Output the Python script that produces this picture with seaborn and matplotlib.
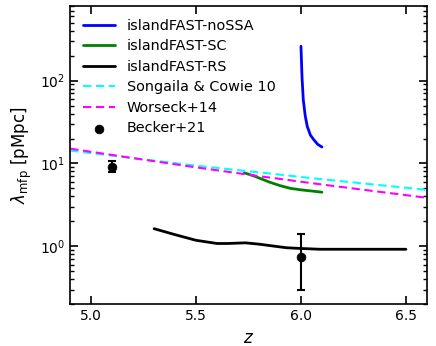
import numpy as np
import pandas as pd
import matplotlib
matplotlib.use("Agg")
import matplotlib.pyplot as plt
import seaborn as sns

# islandFAST models
z_nossa = [6.00, 6.005, 6.011, 6.02, 6.03, 6.045, 6.06, 6.08, 6.10]
mfp_nossa = [260, 110, 59, 38, 28, 22, 19.5, 17, 15.8]

z_sc = [5.73, 5.78, 5.85, 5.90, 5.95, 6.00, 6.05, 6.10]
mfp_sc = [7.7, 7.0, 5.95, 5.4, 5.0, 4.8, 4.65, 4.5]

z_rs = [5.30, 5.40, 5.50, 5.60, 5.65, 5.735, 5.80, 5.93, 6.00, 6.09, 6.20, 6.35, 6.50]
mfp_rs = [1.63, 1.38, 1.18, 1.08, 1.08, 1.10, 1.06, 0.96, 0.94, 0.92, 0.92, 0.92, 0.92]

# fits from the literature
z_fit = [4.9, 5.2, 5.5, 5.8, 6.1, 6.4, 6.6]
mfp_sc10 = [14.3, 11.6, 9.4, 7.8, 6.45, 5.4, 4.8]
mfp_w14 = [15.1, 11.6, 8.97, 7.03, 5.57, 4.46, 3.85]

# Becker+21 measurements
z_b21 = [5.1, 6.0]
mfp_b21 = [9.09, 0.75]
err_lo = [1.28, 0.45]
err_hi = [1.62, 0.65]

sns.set_style("ticks", {"text.color": "black", "axes.labelcolor": "black",
                        "xtick.color": "black", "ytick.color": "black",
                        "axes.edgecolor": "black"})
plt.rcParams["font.family"] = ["DejaVu Sans"]

fig = plt.figure(figsize=(4.36, 3.46), dpi=100)
ax = fig.add_axes([0.161, 0.121, 0.818, 0.862])

dash = (0, (4.0, 2.2))
sns.lineplot(x=z_nossa, y=mfp_nossa, ax=ax, color="blue", lw=2, sort=False,
             label="islandFAST-noSSA")
sns.lineplot(x=z_sc, y=mfp_sc, ax=ax, color="green", lw=2, sort=False,
             label="islandFAST-SC")
sns.lineplot(x=z_rs, y=mfp_rs, ax=ax, color="black", lw=2, sort=False,
             label="islandFAST-RS")
sns.lineplot(x=z_fit, y=mfp_sc10, ax=ax, color="cyan", lw=1.5, linestyle=dash,
             sort=False, label="Songaila & Cowie 10")
sns.lineplot(x=z_fit, y=mfp_w14, ax=ax, color="magenta", lw=1.5, linestyle=dash,
             sort=False, label="Worseck+14")
ax.errorbar(z_b21, mfp_b21, yerr=[err_lo, err_hi], fmt="none", ecolor="black",
            capsize=3, elinewidth=1.5, capthick=1.5)
sns.scatterplot(x=z_b21, y=mfp_b21, ax=ax, color="black", s=40,
                edgecolor="black", zorder=3, label="Becker+21")

ax.set_yscale("log")
ax.set_xlim(4.9, 6.6)
ax.set_ylim(0.2, 800)
ax.set_xticks([5.0, 5.5, 6.0, 6.5])
ax.set_xlabel("$z$", fontsize=12)
ax.set_ylabel(r"$\lambda_{\rm mfp}$ [pMpc]", fontsize=12)

ax.tick_params(which="both", direction="in", top=True, right=True, labelsize=10)
ax.tick_params(which="major", length=6, width=1.2)
ax.tick_params(which="minor", length=3, width=1)
for s in ax.spines.values():
    s.set_linewidth(1.2)
    s.set_color("black")

ax.legend(loc="upper left", frameon=False, fontsize=10.4, handlelength=2.2,
          labelspacing=0.45)

fig.savefig("out.png", dpi=100)
